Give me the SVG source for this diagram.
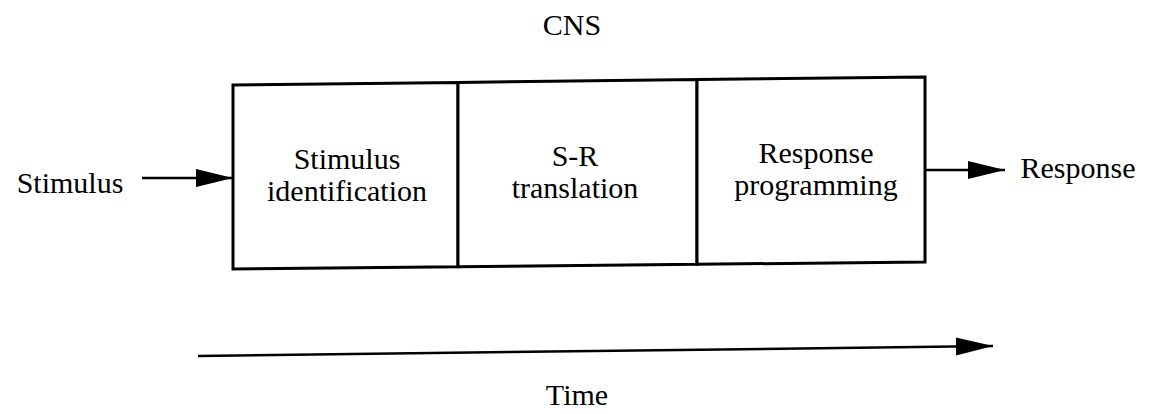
<svg xmlns="http://www.w3.org/2000/svg" width="1157" height="414" viewBox="0 0 1157 414">
<style>
text{font-family:"Liberation Serif","Times New Roman",serif;font-size:30px;fill:#000;text-anchor:middle}
.box{fill:#fff;stroke:#000;stroke-width:3;stroke-linejoin:miter}
.ln{stroke:#000;stroke-width:2.5;fill:none}
</style>
<defs>
<marker id="ah" markerUnits="userSpaceOnUse" markerWidth="38" markerHeight="20" refX="37" refY="9" orient="auto">
<path d="M0,0 L37,9 L0,18 Z" fill="#000"/>
</marker>
</defs>
<text x="572" y="35">CNS</text>
<g id="stimulus-identification">
<polygon class="box" points="233,85 458,82.4 458,266.7 233,269"/>
<text x="347" y="169">Stimulus</text>
<text x="347" y="201">identification</text>
</g>
<g id="sr-translation">
<polygon class="box" points="458,82.4 697,79.6 697,264.3 458,266.7"/>
<text x="575" y="166">S-R</text>
<text x="575" y="198">translation</text>
</g>
<g id="response-programming">
<polygon class="box" points="697,79.6 925,77 925,262 697,264.3"/>
<text x="816" y="163">Response</text>
<text x="816" y="195">programming</text>
</g>
<g id="stimulus"><text x="70" y="193">Stimulus</text></g>
<g id="response"><text x="1078" y="178">Response</text></g>
<g id="time"><text x="577" y="405">Time</text></g>
<g id="connectors">
<line class="ln" x1="142" y1="178" x2="233" y2="178" marker-end="url(#ah)"/>
<line class="ln" x1="925" y1="170" x2="1005" y2="170" marker-end="url(#ah)"/>
<line class="ln" x1="198" y1="356" x2="993" y2="346" marker-end="url(#ah)"/>
</g>
</svg>
